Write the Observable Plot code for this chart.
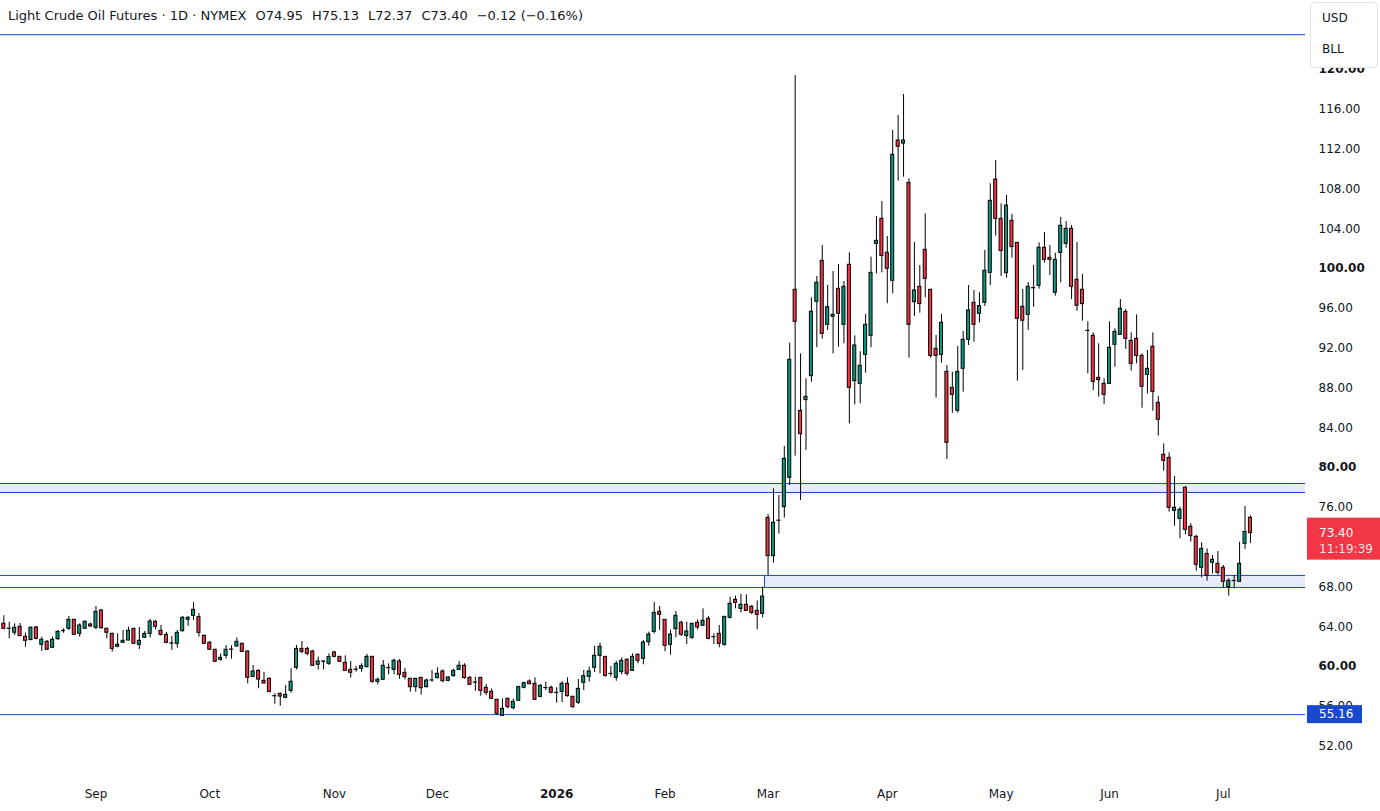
<!DOCTYPE html>
<html>
<head>
<meta charset="utf-8">
<script src="https://cdn.jsdelivr.net/npm/d3@7"></script>
<script src="https://cdn.jsdelivr.net/npm/@observablehq/plot@0.6"></script>
<style>
  html, body { margin: 0; padding: 0; background: #fff; }
  body { font-family: "DejaVu Sans", sans-serif; color: #131722; }
  #wrap { position: relative; width: 1380px; height: 811px; overflow: hidden; background: #fff; }
  #title { height: 30px; line-height: 32px; padding-left: 8px; font-size: 13px; white-space: pre; }
  #title span.v { margin-left: 9px; }
  #chart svg { display: block; }
  #cur { position: absolute; left: 1310px; top: 2px; width: 66px; height: 64px; border: 1px solid #e0e3eb;
         border-radius: 5px; background: #fff; font-size: 12px; color: #131722; }
  #cur div { position: absolute; left: 11px; }
</style>
</head>
<body>
<div id="wrap">
  <div id="title"></div>
  <div id="chart"></div>
  <div id="cur"><div style="top:8px">USD</div><div style="top:39px">BLL</div></div>
</div>
<script>
// ---------- data ----------
const seriesName = "Light Crude Oil Futures";
const interval = "1D";
const exchange = "NYMEX";
const firstDay = "2025-08-06";
const lastDay = "2026-07-09";
const holidays = ["2025-09-01","2025-11-27","2025-12-25","2026-01-01","2026-01-19",
                  "2026-02-16","2026-04-03","2026-05-25","2026-06-19","2026-07-03"];
const monthLabels = ["Sep","Oct","Nov","Dec","2026","Feb","Mar","Apr","May","Jun","Jul"];
const priceTicks = [52,56,60,64,68,72,76,80,84,88,92,96,100,104,108,112,116,120];

const open = [
63.80,64.29,63.80,63.39,63.99,62.98,62.65,63.92,62.18,62.48,61.88,62.75,63.55,63.79,64.69,63.28,63.79,64.22,63.89,65.63,
63.79,63.28,61.98,62.38,62.61,63.79,62.18,62.88,63.28,64.49,63.58,63.18,62.32,62.28,63.55,64.69,65.09,64.96,63.08,62.38,
61.68,60.67,61.07,61.68,62.01,62.28,61.51,58.96,59.56,58.56,58.76,57.02,57.25,56.85,57.55,59.87,61.77,61.77,61.51,60.17,
60.47,60.27,61.41,60.97,60.37,59.66,59.66,59.77,59.93,60.97,58.46,58.66,59.85,59.66,60.50,59.36,58.76,57.92,58.86,57.92,
58.59,58.83,59.50,58.56,59.03,59.66,60.07,58.86,58.39,58.86,57.86,57.45,56.65,55.04,56.75,55.81,56.55,57.86,58.49,58.26,
56.95,57.82,57.86,57.36,57.45,58.26,56.95,56.35,58.36,58.96,59.87,61.07,60.97,59.26,58.86,59.43,60.67,59.56,61.17,60.77,
62.44,63.48,65.49,64.69,62.18,63.75,64.39,63.05,62.88,64.39,64.09,64.79,62.95,63.28,62.18,64.89,66.70,65.79,66.20,66.00,
65.59,65.29,74.94,71.09,74.64,76.01,78.96,97.86,85.69,86.77,89.18,96.65,100.77,94.34,95.15,97.96,94.34,100.37,88.68,88.41,
91.32,93.23,102.48,104.99,101.58,98.76,112.86,112.56,108.61,96.62,98.16,101.88,97.86,91.93,91.32,89.61,88.01,85.70,89.92,92.83,
96.55,95.45,96.55,99.56,108.94,104.99,99.53,104.79,102.58,96.15,95.34,98.00,98.26,102.08,101.07,97.56,101.57,102.48,103.99,98.86,
97.86,93.74,93.23,89.01,88.41,88.41,92.33,93.33,95.64,92.73,92.93,91.22,89.31,92.13,86.50,81.27,80.97,75.65,74.84,77.96,
74.04,73.03,69.92,71.32,70.42,70.32,69.92,67.97,68.58,68.51,72.33,74.95];
const high = [
65.20,65.10,64.45,64.29,64.32,63.35,63.99,64.02,62.95,62.61,62.95,63.62,63.79,65.02,64.72,64.29,64.59,64.35,66.03,65.69,
63.85,63.35,63.28,63.62,63.95,63.82,63.92,63.52,64.76,64.59,64.12,63.42,63.01,63.62,65.02,65.02,66.43,65.32,63.15,62.51,
61.70,61.27,62.11,62.08,62.88,62.34,61.55,60.10,59.66,59.40,58.86,57.25,57.35,58.09,59.77,62.11,62.51,61.94,61.61,60.94,
60.60,61.27,61.51,61.00,61.07,60.50,60.00,60.27,61.21,61.00,58.86,60.60,60.27,60.74,60.70,59.80,58.80,58.80,58.90,58.73,
59.60,59.87,59.66,58.99,59.73,60.50,60.27,58.99,58.93,58.90,58.19,57.75,56.70,56.75,56.82,56.72,58.02,58.42,58.66,58.86,
58.16,58.42,58.02,57.86,58.49,58.86,57.02,58.69,59.60,59.93,62.04,62.34,61.00,60.00,60.50,60.87,60.77,61.27,61.27,62.61,
63.45,66.43,66.03,64.72,63.65,65.53,64.56,64.46,64.32,64.69,65.79,65.02,63.28,64.12,65.02,66.97,67.07,67.24,67.20,66.13,
66.60,67.97,75.28,77.86,77.19,82.11,92.50,119.40,91.42,88.91,97.05,99.19,102.31,98.29,99.70,100.40,98.69,101.58,93.23,91.63,
95.38,101.14,105.23,106.73,103.22,113.87,115.38,117.49,109.01,102.61,100.30,105.49,97.90,93.27,95.38,90.25,89.58,92.16,93.67,98.29,
97.79,97.56,101.81,108.51,110.85,106.50,107.34,105.43,102.60,97.89,98.59,100.30,102.58,103.62,102.31,101.54,105.13,104.72,104.32,102.61,
99.40,94.64,93.53,92.43,88.91,94.64,93.94,96.88,95.88,93.53,95.34,91.42,91.76,93.53,87.13,82.37,81.47,79.10,76.01,78.09,
74.34,73.17,72.43,71.82,71.15,71.56,70.15,68.81,69.15,72.50,76.08,75.13];
const low = [
63.60,63.70,62.78,63.11,63.00,61.94,62.61,62.68,61.51,61.61,61.84,62.61,63.35,63.62,63.18,62.95,63.72,63.95,63.69,63.75,
62.78,61.44,61.88,62.34,62.58,62.25,61.71,62.85,62.88,63.69,63.05,62.28,61.61,61.84,63.45,64.02,64.62,62.95,62.24,61.61,
60.45,60.54,60.74,60.74,61.94,61.41,58.26,58.89,57.76,58.26,57.35,56.21,56.01,56.75,57.32,59.66,61.27,61.07,60.00,59.66,
59.66,60.10,60.87,60.40,59.53,58.83,59.43,59.43,59.87,58.32,58.16,58.59,59.16,59.16,58.73,58.66,57.42,57.42,57.12,57.86,
58.42,58.76,58.36,58.46,58.93,59.60,58.73,58.16,57.52,57.02,57.09,56.72,55.07,55.00,55.74,55.64,56.52,57.75,58.16,56.65,
56.85,57.59,57.25,56.31,56.38,56.92,55.81,56.18,57.59,58.42,59.40,59.26,58.93,58.93,58.52,59.16,59.03,59.53,60.27,60.17,
62.04,63.28,63.62,61.47,61.14,62.88,63.01,62.21,62.71,63.69,64.02,62.68,62.21,61.88,62.04,64.79,65.79,65.39,65.53,65.19,
63.69,64.89,69.15,70.39,73.30,74.91,78.19,81.14,76.68,81.71,88.58,92.03,92.90,93.77,91.42,92.09,92.43,84.39,86.30,86.40,
89.48,92.03,99.46,99.56,96.45,97.46,108.78,109.18,91.00,95.18,95.51,97.05,91.00,86.97,90.49,80.80,85.46,85.46,87.57,92.26,
92.60,94.51,96.18,98.29,103.25,99.20,99.03,101.04,88.68,89.75,93.77,96.11,97.92,100.54,99.30,97.22,98.56,102.04,96.88,95.71,
94.71,89.41,87.74,87.07,86.33,88.38,90.08,93.30,91.86,89.68,90.42,85.96,87.40,85.66,83.15,79.63,75.51,74.10,72.83,73.23,
72.50,69.58,68.91,68.58,69.31,69.15,67.91,67.07,67.81,68.51,71.76,72.37];
const close = [
65.10,63.79,63.78,63.89,63.05,62.58,63.89,62.78,62.68,61.68,62.68,63.48,63.58,64.69,63.18,64.12,64.49,64.02,65.49,63.85,
63.39,61.77,62.18,62.58,63.58,62.28,62.58,63.28,64.52,63.99,63.18,62.38,62.30,63.38,64.89,64.89,65.69,63.38,62.28,61.68,
60.47,60.87,61.68,61.70,62.48,61.47,58.86,59.50,58.69,58.29,57.45,57.00,56.98,57.15,58.46,61.77,61.47,61.27,60.07,60.50,
60.50,60.94,60.97,60.47,59.56,59.36,59.68,60.03,60.97,58.46,58.66,60.07,59.83,60.57,59.16,58.93,57.92,58.76,57.82,58.59,
58.60,59.26,58.52,58.89,59.56,60.07,58.83,58.16,58.37,57.55,57.35,56.75,55.24,55.74,55.91,56.45,57.92,58.32,58.22,56.65,
58.06,57.84,57.35,57.34,58.26,57.02,55.91,57.75,59.03,59.50,61.07,61.98,59.06,59.24,60.27,60.57,59.26,60.97,60.57,62.41,
63.21,65.39,65.19,62.08,63.21,65.09,63.18,63.52,64.29,63.92,64.59,62.78,62.93,62.28,64.99,66.30,66.40,66.20,65.59,65.39,
65.19,67.03,71.09,74.44,74.66,80.87,90.82,94.64,83.35,87.10,95.65,98.56,93.43,96.11,95.35,95.45,98.16,88.01,92.26,90.22,
94.34,99.56,102.78,101.27,99.97,111.42,112.23,112.86,94.34,97.79,96.42,98.96,91.22,91.22,94.54,82.48,87.30,89.61,92.83,95.78,
94.34,96.22,99.77,106.80,104.99,101.76,106.33,102.15,94.94,94.74,98.16,98.04,102.08,100.87,100.87,100.87,104.29,103.99,98.16,96.25,
96.42,93.72,88.61,88.78,87.30,92.03,93.63,95.95,92.93,90.42,91.22,88.11,89.92,87.60,84.79,80.67,75.95,75.95,75.75,73.74,
73.10,70.22,71.82,69.11,70.72,69.41,68.51,68.61,68.60,70.32,73.52,73.40];

// drawn objects: horizontal lines and rectangles (price levels, bar index anchors)
const levels = [123.5, 55.16];
const zones = [
  {start: -20, end: 300, lo: 77.49, hi: 78.39},
  {start: 141.34, end: 300, lo: 67.94, hi: 69.15}
];
const countdown = "11:19:39";

// ---------- build ----------
const GREEN = "#089981", RED = "#f23645", BLUE = "#1848cc", INK = "#131722";
const hol = new Set(holidays);
const dates = [];
for (let t = Date.parse(firstDay + "T00:00:00Z"); t <= Date.parse(lastDay + "T00:00:00Z"); t += 86400000) {
  const d = new Date(t);
  const wd = d.getUTCDay();
  if (wd === 0 || wd === 6) continue;
  if (hol.has(d.toISOString().slice(0, 10))) continue;
  dates.push(d);
}
const bars = open.map((o, i) => ({i, date: dates[i], o, h: high[i], l: low[i], c: close[i]}));
const n = bars.length;

// month boundaries -> tick positions
const monthStarts = [];
for (let i = 1; i < dates.length; i++) {
  if (dates[i].getUTCMonth() !== dates[i - 1].getUTCMonth()) monthStarts.push(i);
}
const monthTicks = monthStarts.slice(0, monthLabels.length).map((i, k) => ({i, label: monthLabels[k]}));

// title
const last = bars[n - 1], prev = bars[n - 2];
const chg = last.c - prev.c;
const pct = chg / prev.c * 100;
const sgn = v => (v < 0 ? "\u2212" : "+") + Math.abs(v).toFixed(2);
const titleEl = document.getElementById("title");
titleEl.innerHTML =
  `<span>${seriesName} · ${interval} · ${exchange}</span>` +
  `<span class="v">O${last.o.toFixed(2)}</span>` +
  `<span class="v">H${last.h.toFixed(2)}</span>` +
  `<span class="v">L${last.l.toFixed(2)}</span>` +
  `<span class="v">C${last.c.toFixed(2)}</span>` +
  `<span class="v">${sgn(chg)} (${sgn(pct)}%)</span>`;

// price tag render mark
function priceTag(value, lines, bg, w, above, below) {
  return (index, scales, values, dims) => {
    const y = scales.y(value);
    const x0 = dims.width - dims.marginRight + 2;
    const g = d3.create("svg:g");
    g.append("rect").attr("x", x0).attr("y", y - above).attr("width", w).attr("height", above + below).attr("fill", bg);
    lines.forEach((t, k) => {
      g.append("text").attr("x", x0 + 12).attr("y", y + k * 16).attr("dy", "0.36em")
        .attr("text-anchor", "start")
        .attr("fill", k === 0 ? "#ffffff" : "rgba(255,255,255,0.88)")
        .attr("font-size", 12).attr("font-family", "DejaVu Sans").text(t);
    });
    return g.node();
  };
}

const chart = Plot.plot({
  width: 1380,
  height: 781,
  marginLeft: 0,
  marginRight: 75,
  marginTop: 0,
  marginBottom: 30,
  style: {fontFamily: "DejaVu Sans", fontSize: "12px", color: INK, background: "#fff", overflow: "visible"},
  x: {domain: [0.386, 241.16], axis: null},
  y: {domain: [48.44, 123.92], axis: null},
  marks: [
    Plot.rect(zones, {x1: "start", x2: "end", y1: "lo", y2: "hi", fill: BLUE, fillOpacity: 0.1, clip: true}),
    Plot.ruleY(zones.flatMap(z => [z.lo, z.hi]), {y: d => d, stroke: BLUE, strokeWidth: 1, clip: true}),
    Plot.ruleX(zones.filter(z => z.start > 0), {x: "start", y1: "lo", y2: "hi", stroke: BLUE, strokeWidth: 1, clip: true}),
    Plot.ruleY(levels, {y: d => d, stroke: BLUE, strokeWidth: 1}),
    Plot.ruleX(bars, {x: "i", y1: "l", y2: "h", stroke: "#000", strokeWidth: 1, clip: true}),
    Plot.rect(bars, {
      x1: d => d.i - 0.28, x2: d => d.i + 0.28,
      y1: "o", y2: "c",
      fill: d => (d.c >= d.o ? GREEN : RED),
      stroke: "#000", strokeWidth: 1, clip: true
    }),
    Plot.text(priceTicks.filter(t => t % 20 !== 0), {
      y: d => d, text: d => d.toFixed(2), frameAnchor: "right", dx: 13, textAnchor: "start",
      fill: INK, fontSize: 12
    }),
    Plot.text(priceTicks.filter(t => t % 20 === 0), {
      y: d => d, text: d => d.toFixed(2), frameAnchor: "right", dx: 13, textAnchor: "start",
      fill: INK, fontSize: 12, fontWeight: "bold"
    }),
    Plot.text(monthTicks.filter(d => !/^\d+$/.test(d.label)), {
      x: "i", text: "label", frameAnchor: "bottom", dy: 16, fill: INK, fontSize: 12
    }),
    Plot.text(monthTicks.filter(d => /^\d+$/.test(d.label)), {
      x: "i", text: "label", frameAnchor: "bottom", dy: 16, fill: INK, fontSize: 12, fontWeight: "bold"
    }),
    priceTag(levels[1], [levels[1].toFixed(2)], BLUE, 55, 9, 9),
    priceTag(last.c, [last.c.toFixed(2), countdown], RED, 73, 15, 27)
  ]
});
document.getElementById("chart").appendChild(chart);
</script>
</body>
</html>
